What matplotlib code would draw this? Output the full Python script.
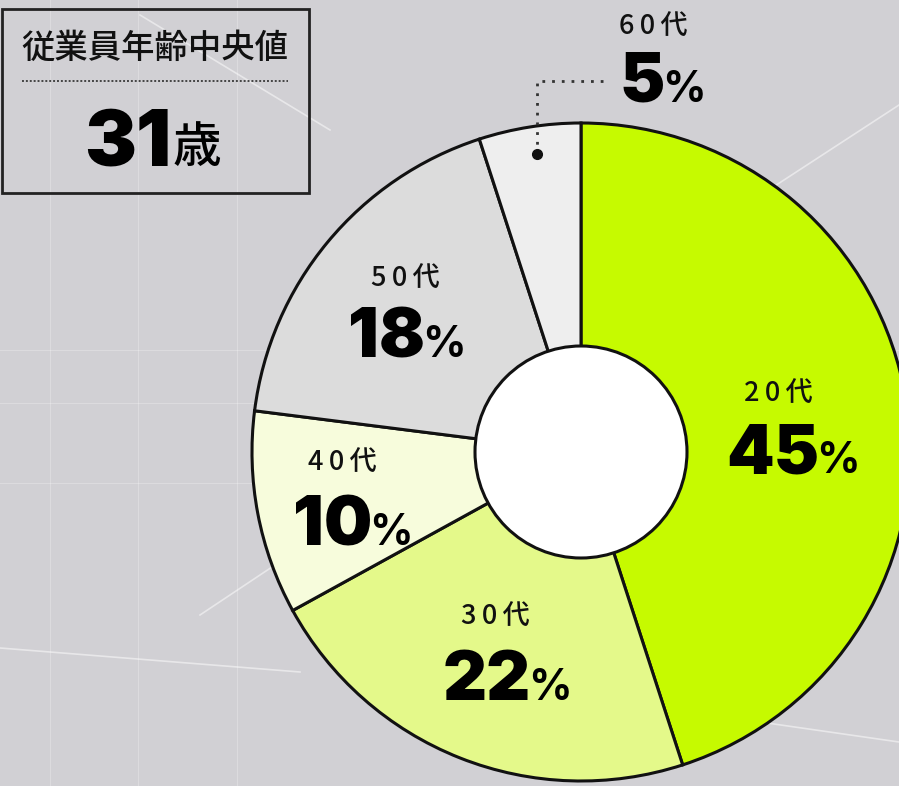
import matplotlib
matplotlib.use("Agg")
import matplotlib.pyplot as plt
from matplotlib.patches import Circle, Rectangle

# data
ages = ['20代', '30代', '40代', '50代', '60代']
shares = [45, 22, 10, 18, 5]
median_age = 31
median_title = '従業員年齢中央値'

colors = ['#c6fa00', '#e4f98a', '#f7fcdc', '#dcdcdc', '#eeeeee']
bg = '#d1d0d4'
JP = ['Noto Sans CJK JP', 'DejaVu Sans']
NUM = 'Inter'

# label layout (pixel coords): label x, label y, digits right edge, baseline
label_pos = {
    '20代': (778, 393, 819, 473),
    '30代': (495, 616, 531, 700),
    '40代': (342, 462, 372, 545),
    '50代': (405, 278, 425, 357),
    '60代': (653, 26, 665, 102),
}

fig = plt.figure(figsize=(8.99, 7.86), dpi=100)
fig.patch.set_facecolor(bg)
ax = fig.add_axes([0, 0, 1, 1])
ax.set_facecolor(bg)

# faint decorative lines in the background
for xs, ys in [([140, 330], [15, 130]), ([600, 899], [300, 105]),
               ([0, 300], [648, 672]), ([760, 899], [722, 742]),
               ([200, 275], [615, 565])]:
    ax.plot(xs, ys, color='white', lw=1.2, alpha=0.5, zorder=0)
for x in [50, 138, 237]:
    ax.axvline(x, color='white', lw=0.8, alpha=0.25, zorder=0)
for y in [350, 403, 483]:
    ax.axhline(y, color='white', lw=0.8, alpha=0.25, zorder=0)

# donut (y axis inverted below, so counterclock in data = clockwise on screen)
cx, cy, r_out, r_in = 581, 452, 329, 106
ax.pie(shares, colors=colors, startangle=-90, counterclock=True,
       center=(cx, cy), radius=r_out,
       wedgeprops=dict(edgecolor='#111111', linewidth=2.2))
ax.add_patch(Circle((cx, cy), r_in, facecolor='white', edgecolor='#111111',
                    linewidth=2.2, zorder=3))

ax.set_xlim(0, 899)
ax.set_ylim(786, 0)
ax.set_aspect('equal')
ax.axis('off')

sp = '\u2009'

for age, val in zip(ages, shares):
    lx, ly, dr, base = label_pos[age]
    ax.text(lx, ly, sp.join(age), family=JP, fontsize=19.5, weight='medium',
            ha='center', va='center', color='#111111', zorder=5)
    ax.text(dr, base, str(val), family=NUM, fontsize=49, weight='black',
            ha='right', va='baseline', color='black', zorder=5)
    ax.text(dr - 3, base, '%', family=NUM, fontsize=31, weight='bold',
            ha='left', va='baseline', color='black', zorder=5)

# leader for the small 60代 slice
ax.plot([603, 537, 537], [81, 81, 154], color='#333333', lw=2,
        linestyle=(0, (1, 2.5)), zorder=6)
ax.plot([537], [154], 'o', color='#111111', markersize=7, zorder=6)

# median box
ax.add_patch(Rectangle((1.5, 9), 307, 184, facecolor='none',
                       edgecolor='#222222', linewidth=2, zorder=4))
ax.text(155, 48, median_title, family=JP, fontsize=24,
        weight='medium', ha='center', va='center', color='#111111', zorder=5)
ax.plot([22, 288], [81, 81], color='#444444', lw=1.4,
        linestyle=(0, (1, 1)), zorder=5)
ax.text(171, 165, str(median_age), family=NUM, fontsize=56, weight='black',
        ha='right', va='baseline', color='black', zorder=5)
ax.text(173, 162, '歳', family=JP, fontsize=35, weight='medium',
        ha='left', va='baseline', color='black', zorder=5)

fig.savefig('out.png', dpi=100, facecolor=bg)
